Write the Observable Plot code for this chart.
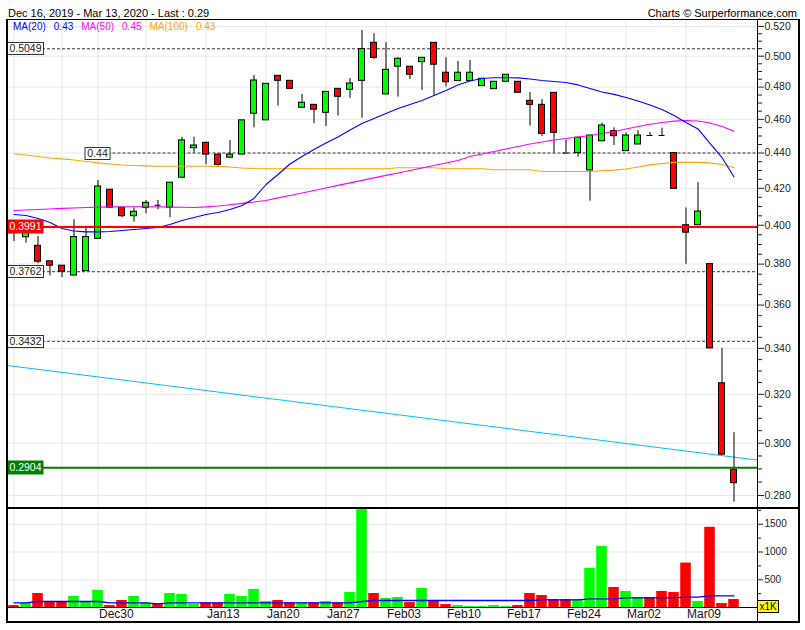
<!DOCTYPE html>
<html><head><meta charset="utf-8">
<script src="https://cdn.jsdelivr.net/npm/d3@7"></script>
<script src="https://cdn.jsdelivr.net/npm/@observablehq/plot@0.6"></script>
<style>
body{margin:0;background:#fff;font-family:"Liberation Sans",Arial,sans-serif;}
#wrap{position:relative;width:805px;height:630px;overflow:hidden;background:#fff;}
#wrap svg{position:absolute;left:0;background:transparent;}
.hdr{position:absolute;font-size:11px;line-height:13px;color:#000;white-space:nowrap;}
#legend{position:absolute;left:13px;top:21px;font-size:10px;line-height:12px;white-space:nowrap;z-index:3;}
#legend span{margin-right:8px;}
#frame{position:absolute;left:6px;top:19px;width:794px;height:604px;box-sizing:border-box;border:2px solid #000;border-top-width:1px;z-index:4;}
#sep{position:absolute;left:7px;top:507px;width:792px;height:2px;background:#000;z-index:4;}
#axisline{position:absolute;left:757px;top:19px;width:1px;height:603px;background:#000;z-index:4;}
#x1k{position:absolute;left:757px;top:600px;width:20px;height:11px;background:#ffff00;border:1px solid #000;font-size:10px;line-height:11px;text-align:center;z-index:5;}
</style></head>
<body>
<div id="wrap">
  <div class="hdr" style="left:8px;top:7px">Dec 16, 2019 - Mar 13, 2020 - Last : 0.29</div>
  <div class="hdr" style="right:8px;top:7px">Charts © Surperformance.com</div>
</div>
<script>
// ---------- data ----------
const dates = ["2019-12-16","2019-12-17","2019-12-18","2019-12-19",
 "2019-12-23","2019-12-24","2019-12-27",
 "2019-12-30","2019-12-31","2020-01-02","2020-01-03",
 "2020-01-06","2020-01-07","2020-01-08","2020-01-09","2020-01-10",
 "2020-01-13","2020-01-14","2020-01-15","2020-01-16","2020-01-17",
 "2020-01-20","2020-01-21","2020-01-22","2020-01-23","2020-01-24",
 "2020-01-27","2020-01-28","2020-01-29","2020-01-30","2020-01-31",
 "2020-02-03","2020-02-04","2020-02-05","2020-02-06","2020-02-07",
 "2020-02-10","2020-02-11","2020-02-12","2020-02-13","2020-02-14",
 "2020-02-17","2020-02-18","2020-02-19","2020-02-20","2020-02-21",
 "2020-02-24","2020-02-25","2020-02-26","2020-02-27","2020-02-28",
 "2020-03-02","2020-03-03","2020-03-04","2020-03-05","2020-03-06",
 "2020-03-09","2020-03-10","2020-03-11","2020-03-12","2020-03-13"];

const open = [.3990,.3937,.3893,.3814,.3792,.3743,.3765,.3929,.4192,.4093,
 .4048,.4093,.4107,.4093,.4259,.4428,.4460,.4391,.4373,.4391,
 .4634,.4594,.4872,.4840,.4671,.4689,.4640,.4789,.4783,.4840,
 .5089,.4754,.4931,.4931,.4961,.5089,.4892,.4838,.4838,.4806,
 .4787,.4834,.4834,.4714,.4689,.4764,.4400,.4400,.4300,.4469,
 .4529,.4411,.4450,.4503,.4503,.4400,.4000,.4000,.3800,.3247,
 .2897];
const high = [.4005,.3990,.3941,.3814,.3792,.4029,.3985,.4244,.4192,.4093,
 .4093,.4133,.4133,.4231,.4492,.4492,.4460,.4391,.4474,.4594,
 .4874,.4821,.4872,.4840,.4754,.4689,.4770,.4789,.4855,.5173,
 .5150,.5089,.4989,.4931,.4989,.5089,.4989,.4965,.4972,.4853,
 .4834,.4879,.4834,.4766,.4721,.4764,.4474,.4490,.4503,.4577,
 .4549,.4519,.4533,.4522,.4547,.4400,.4092,.4231,.3800,.3400,
 .3042];
const low = [.3915,.3906,.3802,.3741,.3733,.3743,.3765,.3929,.4093,.4040,
 .4016,.4061,.4083,.4040,.4259,.4399,.4332,.4323,.4373,.4391,
 .4549,.4594,.4681,.4789,.4671,.4573,.4557,.4620,.4730,.4607,
 .4978,.4754,.4737,.4848,.4779,.4747,.4800,.4838,.4838,.4806,
 .4787,.4834,.4764,.4559,.4496,.4400,.4400,.4376,.4129,.4469,
 .4444,.4411,.4450,.4503,.4503,.4197,.3799,.4000,.3400,.2955,
 .2775];
const close = [.3970,.3980,.3812,.3792,.3762,.3938,.3938,.4210,.4093,.4048,
 .4072,.4120,.4107,.4231,.4474,.4444,.4391,.4332,.4391,.4594,
 .4842,.4821,.4840,.4789,.4702,.4659,.4770,.4739,.4823,.5047,
 .4989,.4911,.4983,.4879,.4989,.4944,.4831,.4892,.4892,.4853,
 .4834,.4879,.4764,.4689,.4513,.4519,.4400,.4490,.4503,.4563,
 .4499,.4503,.4503,.4503,.4503,.4197,.3961,.4073,.3400,.2955,
 .2846];
const volume = [35,77,252,108,108,198,108,306,35,126,
 198,84,59,252,234,53,84,84,234,198,
 325,108,126,84,84,84,108,84,270,1900,
 252,162,180,89,343,114,53,35,17,17,
 35,17,35,252,216,144,144,144,704,1102,
 361,289,180,180,289,270,801,108,1446,71,
 144];
const volumeMA = [84,84,108,108,108,108,108,108,84,84,
 84,84,66,84,84,84,84,84,84,84,
 84,84,84,84,84,84,84,84,84,108,
 126,126,126,126,126,126,126,126,126,126,
 126,126,126,126,138,138,138,138,156,156,
 156,175,175,175,175,175,186,186,211,211,
 211];
const ma20 = [.4057,.4052,.4036,.4015,.3983,.3970,.3965,.3965,.3967,.3972,
 .3978,.3983,.3988,.4004,.4025,.4041,.4057,.4068,.4084,.4106,
 .4144,.4221,.4277,.4337,.4380,.4421,.4459,.4494,.4536,.4575,
 .4605,.4636,.4667,.4691,.4716,.4747,.4779,.4814,.4839,.4855,
 .4860,.4860,.4859,.4852,.4842,.4836,.4829,.4814,.4791,.4769,
 .4754,.4735,.4713,.4688,.4660,.4624,.4581,.4542,.4456,.4374,
 .4263];
const ma50 = [.4079,.4081,.4084,.4087,.4090,.4092,.4095,.4097,.4098,.4099,
 .4099,.4099,.4099,.4097,.4096,.4095,.4098,.4103,.4110,.4117,
 .4125,.4133,.4147,.4160,.4174,.4188,.4202,.4216,.4230,.4244,
 .4258,.4272,.4286,.4300,.4314,.4328,.4343,.4357,.4380,.4394,
 .4409,.4424,.4438,.4453,.4465,.4476,.4485,.4494,.4503,.4515,
 .4527,.4542,.4557,.4570,.4581,.4589,.4593,.4590,.4578,.4557,
 .4529];
const ma100 = [.4396,.4389,.4380,.4371,.4366,.4360,.4351,.4343,.4337,.4331,
 .4328,.4326,.4324,.4324,.4324,.4324,.4324,.4323,.4320,.4314,
 .4311,.4310,.4310,.4310,.4310,.4310,.4310,.4310,.4310,.4310,
 .4310,.4310,.4315,.4315,.4315,.4315,.4310,.4310,.4310,.4310,
 .4304,.4304,.4304,.4304,.4294,.4294,.4294,.4294,.4294,.4298,
 .4302,.4308,.4320,.4332,.4340,.4346,.4346,.4346,.4343,.4334,
 .4315];
// straight support trend line (cyan), endpoints at left/right edges
const trendIdx = [-0.5417, 61.9583];
const trendVal = [0.3324, 0.2934];
// horizontal levels
const levelValues = [0.5049, 0.44, 0.3991, 0.3762, 0.3432, 0.2904];
const levelColors = ["#333333","#333333","#ff0000","#333333","#333333","#008000"];
const levelSolid  = [false, false, true, false, false, true];
const levelStart  = [null, "2019-12-30", null, null, null, null];
// axes
const priceTicks = [0.28,0.30,0.32,0.34,0.36,0.38,0.40,0.42,0.44,0.46,0.48,0.50,0.52];
const volTicks = [500,1000,1500];
const volMinorTicks = [250,750,1250,1750];
const tickLabels = ["Dec30","Jan13","Jan20","Jan27","Feb03","Feb10","Feb17","Feb24","Mar02","Mar09"];
const maNames = ["MA(20)","MA(50)","MA(100)"];
const maColors = ["#0000ff","#ff00ff","#ffa500"];

// ---------- derived ----------
const parse = d3.utcParse("%Y-%m-%d");
const dts = dates.map(parse);
const fmt = d3.utcFormat("%b%d");
const idx = dates.map((d,i)=>i);
const gridIdx = idx.filter(i => i===0 || +d3.utcMonday.floor(dts[i]) !== +d3.utcMonday.floor(dts[i-1]));
const labelIdx = tickLabels.map(t => dts.findIndex(d => fmt(d) === t));
const candles = idx.map(i => ({i, o:open[i], h:high[i], l:low[i], c:close[i], v:volume[i], up: close[i] > open[i]}));
const xDomain = [trendIdx[0], trendIdx[1]];
const toPts = arr => arr.map((v,i)=>({i, v}));
const minorPrice = d3.range(56, 106).map(k => k*0.005).filter(v => !priceTicks.some(t => Math.abs(t-v) < 1e-6));
const levels = levelValues.map((v,k)=>({v, color: levelColors[k], solid: levelSolid[k],
  start: levelStart[k] ? dates.indexOf(levelStart[k]) : xDomain[0], anchored: !!levelStart[k]}));
const grid = "#e8e8e8";

const price = Plot.plot({
  width: 805, height: 508, marginTop: 19, marginBottom: 1, marginLeft: 7, marginRight: 48,
  x: {domain: xDomain, axis: null, label: null},
  y: {type: "log", domain: [0.2756, 0.5248], label: null},
  style: {fontFamily: "Liberation Sans, Arial, sans-serif", fontSize: "10.5px", color: "#222", background: "transparent"},
  marks: [
    Plot.ruleY(priceTicks, {stroke: grid}),
    Plot.ruleX(gridIdx, {stroke: grid}),
    Plot.ruleY(levels.filter(d=>!d.solid), {y: "v", x1: "start", x2: () => xDomain[1], stroke: "#333", strokeDasharray: "3,2"}),
    Plot.line(trendIdx.map((x,k)=>({x, v: trendVal[k]})), {x: "x", y: "v", stroke: "#00bfff", strokeWidth: 1, clip: true}),
    Plot.ruleX(candles, {x: "i", y1: "l", y2: "h", stroke: "#000"}),
    Plot.rect(candles.filter(d=>d.o!==d.c), {x1: d=>d.i-0.25, x2: d=>d.i+0.25, y1: "o", y2: "c",
      fill: d => d.up ? "#00ff00" : "#ff0000", stroke: "#000", strokeWidth: 1}),
    Plot.ruleY(candles.filter(d=>d.o===d.c), {y: "o", x1: d=>d.i-0.25, x2: d=>d.i+0.25, stroke: "#000"}),
    Plot.line(toPts(ma100), {x: "i", y: "v", stroke: maColors[2], strokeWidth: 1.1}),
    Plot.line(toPts(ma50), {x: "i", y: "v", stroke: maColors[1], strokeWidth: 1.1}),
    Plot.line(toPts(ma20), {x: "i", y: "v", stroke: maColors[0], strokeWidth: 1.1}),
    Plot.ruleY(levels.filter(d=>d.solid), {y: "v", x1: "start", x2: () => xDomain[1], stroke: "color", strokeWidth: 2}),
    Plot.axisY(priceTicks, {anchor: "right", tickSize: 6, tickPadding: 1, tickFormat: d3.format(".3f"), label: null, fill: "#222"}),
    Plot.axisY(minorPrice, {anchor: "right", tickSize: 4, tickFormat: () => "", label: null})
  ]
});
price.style.top = "0px";

// level label boxes, positioned through the plot's own scales
const sx = price.scale("x"), sy = price.scale("y");
const lg = d3.select(price).append("g").attr("font-family", "Liberation Sans, Arial, sans-serif").attr("font-size", 10.5);
levels.forEach(d => {
  const txt = String(d.v);
  const w = txt.length * 5.5 + 3;
  const h = d.solid ? 14 : 12;
  const cy = sy.apply(d.v);
  const x0 = d.anchored ? sx.apply(d.start) - w/2 : sx.apply(xDomain[0]) + 0.5;
  lg.append("rect").attr("x", x0).attr("y", Math.round(cy - h/2) + 0.5).attr("width", w).attr("height", h)
    .attr("fill", d.solid ? d.color : "#fff").attr("stroke", d.solid ? "none" : "#333");
  lg.append("text").attr("x", x0 + w/2).attr("y", Math.round(cy) + 1).attr("text-anchor", "middle")
    .attr("dominant-baseline", "middle").attr("fill", d.solid ? "#fff" : "#222").text(txt);
});

const vol = Plot.plot({
  width: 805, height: 114, marginTop: 0, marginBottom: 15, marginLeft: 7, marginRight: 48,
  x: {domain: xDomain, axis: null, label: null},
  y: {domain: [0, 1784], label: null},
  style: {fontFamily: "Liberation Sans, Arial, sans-serif", fontSize: "10px", color: "#222", background: "transparent"},
  marks: [
    Plot.ruleY(volTicks, {stroke: grid}),
    Plot.ruleX(gridIdx, {stroke: grid}),
    Plot.rect(candles, {x1: d=>d.i-0.44, x2: d=>d.i+0.44, y1: 0, y2: "v", fill: d => d.up ? "#00ff00" : "#ff0000", clip: true}),
    Plot.line(toPts(volumeMA), {x: "i", y: "v", stroke: "#0000ff", strokeWidth: 1.3}),
    Plot.ruleY([0], {stroke: "#000"}),
    Plot.axisY(volTicks, {anchor: "right", tickSize: 5, tickPadding: 2, tickFormat: d3.format("d"), label: null, fill: "#222"}),
    Plot.axisY(volMinorTicks, {anchor: "right", tickSize: 3, tickFormat: () => "", label: null}),
    Plot.text(labelIdx, {x: d => d, frameAnchor: "bottom", textAnchor: "start", lineAnchor: "top", dy: 2, dx: 1,
      text: i => fmt(dts[i]), fontSize: 12, fill: "#1a0f1a"})
  ]
});
vol.style.top = "508px";

const wrap = document.getElementById("wrap");
wrap.appendChild(price);
wrap.appendChild(vol);

// legend
const maLast = [ma20, ma50, ma100].map(a => d3.format(".2f")(a[a.length-1]));
const legend = document.createElement("div");
legend.id = "legend";
legend.innerHTML = maNames.map((n,k) => `<span style="color:${maColors[k]}">${n}</span><span style="color:${maColors[k]}">${maLast[k]}</span>`).join("");
wrap.appendChild(legend);

for (const id of ["frame","sep","axisline"]) { const e = document.createElement("div"); e.id = id; wrap.appendChild(e); }
const xk = document.createElement("div"); xk.id = "x1k"; xk.textContent = "x1K"; wrap.appendChild(xk);
</script>
</body></html>
